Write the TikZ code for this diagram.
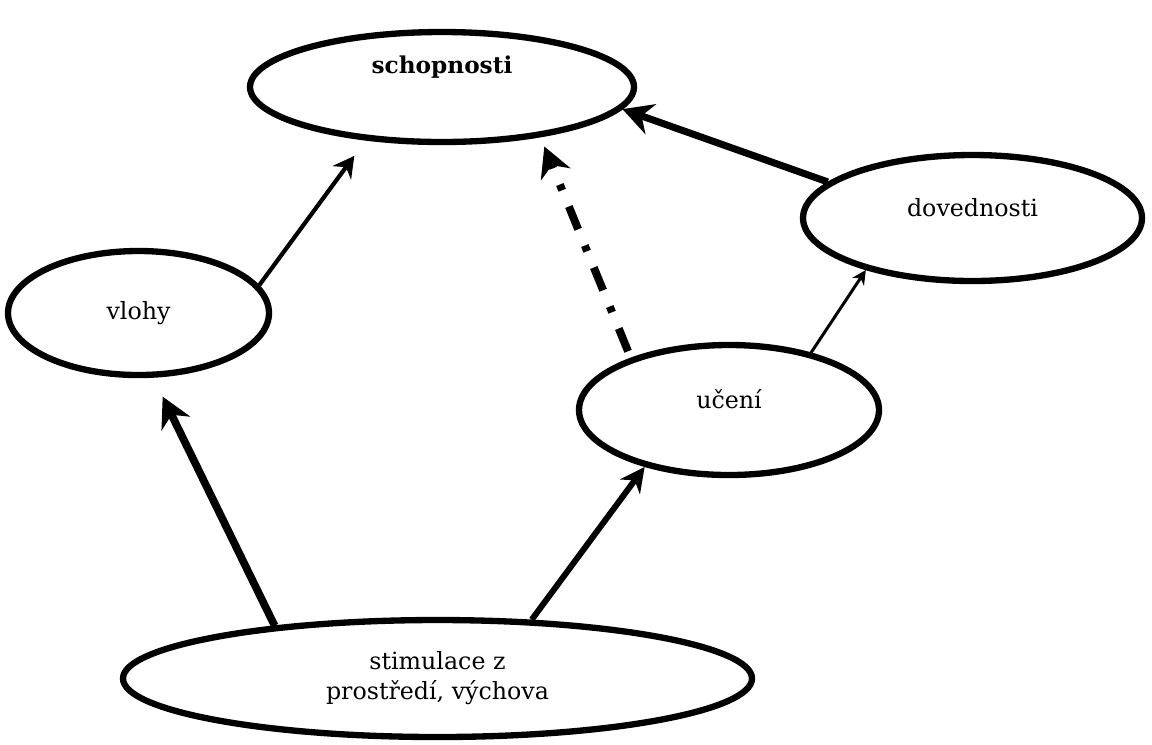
\documentclass[tikz,border=0pt]{standalone}
\usepackage{fontspec}
\setmainfont{DejaVu Serif}
\usepackage{tikz}
\usetikzlibrary{shapes.geometric,arrows.meta}

\begin{document}
\begin{tikzpicture}[
  bubble/.style={draw=black,ellipse,line width=3.6pt,inner sep=0pt,align=center,
    font=\fontsize{13.5}{17}\selectfont},
  lifted/.style={text height=0.3cm,text depth=#1},
  thinlink/.style={line width=1.7pt,-{Stealth[length=8pt,width=8pt,inset=2.5pt]}},
  midlink/.style={line width=2.4pt,-{Stealth[length=12pt,width=13pt,inset=4pt]}},
  medlink/.style={line width=3.4pt,-{Stealth[length=14pt,width=14pt,inset=4.5pt]}},
  thicklink/.style={line width=4.4pt,-{Stealth[length=17pt,width=18pt,inset=5.5pt]}},
  dashdot/.style={line width=4.5pt,dash pattern=on 14pt off 10pt on 3.5pt off 10pt,
    -{Stealth[length=17pt,width=18pt,inset=5.5pt]}}
]
\useasboundingbox (0,0) rectangle (23.04,-14.88);
\node[bubble,lifted=0.86cm,minimum width=7.68cm,minimum height=2.2cm,
  font=\fontsize{13.2}{17}\selectfont\bfseries] (schop) at (8.84,-1.74) {schopnosti};
\node[bubble,minimum width=5.22cm,minimum height=2.48cm] (vlohy) at (2.77,-6.26) {vlohy};
\node[bubble,lifted=0.38cm,minimum width=6.78cm,minimum height=2.52cm] (doved) at (19.45,-4.36) {dovednosti};
\node[bubble,lifted=0.38cm,minimum width=6.0cm,minimum height=2.6cm] (uceni) at (14.58,-8.2) {učení};
\node[bubble,minimum width=12.58cm,minimum height=2.34cm] (stim) at (8.75,-13.57) {stimulace z\\prostředí, výchova};

\draw[midlink,shorten >=0.38cm] (vlohy.13.7) -- (schop.215);
\draw[thicklink,shorten >=0.42cm] (stim.162.5) -- (vlohy.283);
\draw[medlink] (stim.32.9) -- (uceni.214.9);
\draw[dashdot,shorten <=0.14cm,shorten >=0.2cm] (uceni.152) -- (schop.333);
\draw[thinlink] (uceni.35.4) -- (doved.206.9);
\draw[thicklink,line width=4pt] (doved.166.9) -- (schop.353.3);
\end{tikzpicture}
\end{document}
